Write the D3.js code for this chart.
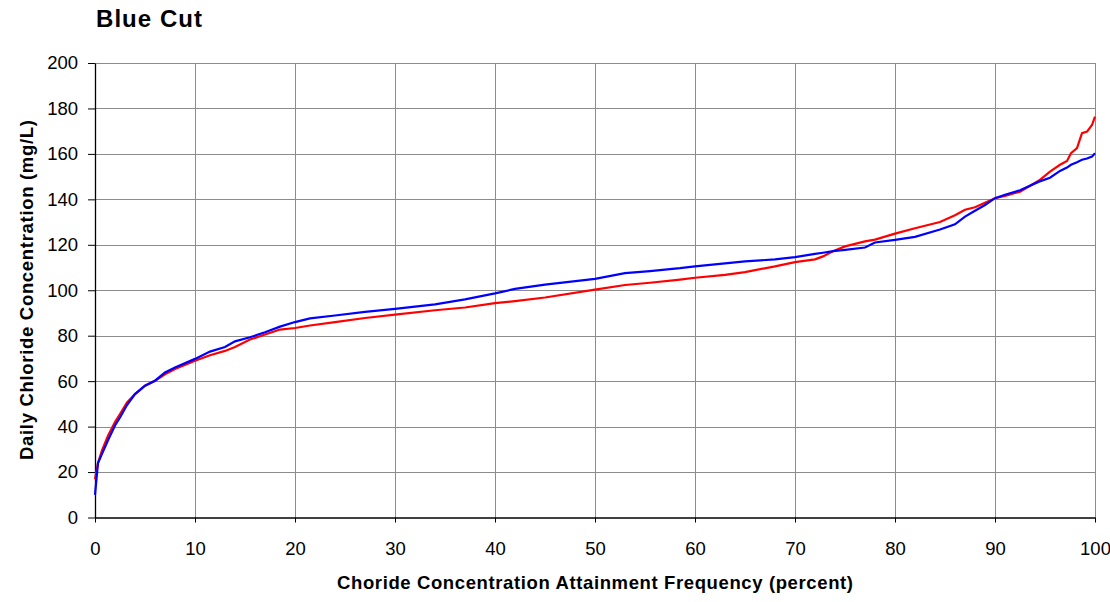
<!DOCTYPE html>
<html>
<head>
<meta charset="utf-8">
<script src="https://cdn.jsdelivr.net/npm/d3@7"></script>
<style>
  body { margin: 0; background: #fff; }
  svg { font-family: Arial, "Liberation Sans", sans-serif; }
</style>
</head>
<body>
<div id="chart"></div>
<script>
// attainment frequency (percent), shared by both series
var freq = [0, 0.3, 0.7, 1.3, 2, 2.5, 3.2, 4, 5, 6, 7, 8, 10, 11.5, 13, 14, 15.5, 17, 18.5, 20,
    21.5, 24, 27, 30, 34, 37, 40, 42, 45, 50, 53, 55.5, 58.5, 60, 63, 65, 68, 70, 72, 72.8,
    73.8, 75, 77, 78, 80, 82, 84.5, 86, 87, 88, 89, 90, 91, 92.5, 94.4, 95.5, 96.5, 97.2, 97.6,
    98.2, 98.7, 99.2, 99.7, 100];

// red series (mg/L)
var redVals = [16.8, 24, 29.5, 36, 42, 45.5, 50.6, 54.3, 58, 60.2, 63, 65.3, 69, 71.4, 73.3, 75, 78.3, 80.5, 82.7, 83.4,
    84.5, 86, 87.8, 89.3, 91.2, 92.4, 94.3, 95.2, 96.8, 100.3, 102.3, 103.3, 104.7, 105.5, 106.8, 108, 110.5, 112.4, 113.6, 114.9,
    117.2, 119.3, 121.5, 122.3, 124.9, 127.3, 130, 133, 135.4, 136.5, 138.5, 140.5, 141.5, 143.4, 148.3, 152.2, 155.2, 156.9, 160.3,
    162.5, 169.1, 169.8, 172.7, 176.4];

// blue series (mg/L)
var blueVals = [10, 24, 28, 34, 40.5, 44, 49.5, 54.3, 58, 60.2, 63.8, 66, 69.8, 73, 75, 77.5, 79.3, 81.5, 84, 86,
    87.6, 88.9, 90.5, 91.8, 93.8, 96, 98.6, 100.6, 102.5, 105, 107.5, 108.4, 109.7, 110.5, 111.8, 112.7, 113.6, 114.6, 116, 116.5,
    117.2, 117.8, 118.8, 121, 122.2, 123.5, 126.7, 129, 132.4, 135, 137.5, 140.5, 142, 144, 147.8, 149.5, 152.5, 154, 155.2,
    156.3, 157.4, 158, 158.8, 160.3];

var xTicks = [0, 10, 20, 30, 40, 50, 60, 70, 80, 90, 100];
var yTicks = [0, 20, 40, 60, 80, 100, 120, 140, 160, 180, 200];

var margin = { top: 63, right: 14, bottom: 84.5, left: 95 },
    width = 1110 - margin.left - margin.right,
    height = 602 - margin.top - margin.bottom;

var svg = d3.select("#chart")
    .append("svg")
    .attr("width", 1110)
    .attr("height", 602);

var g = svg.append("g")
    .attr("transform", "translate(" + margin.left + "," + margin.top + ")");

var x = d3.scaleLinear().domain([0, 100]).range([0, 1000]);
var y = d3.scaleLinear().domain([0, 200]).range([height, 0]);

// grid
g.append("g")
    .selectAll("line")
    .data(yTicks.slice(1))
    .enter()
    .append("line")
    .attr("x1", 0)
    .attr("x2", x(100))
    .attr("y1", d => Math.round(y(d)) + 0.5)
    .attr("y2", d => Math.round(y(d)) + 0.5)
    .attr("stroke", "#8c8c8c")
    .attr("stroke-width", 1);

g.append("g")
    .selectAll("line")
    .data(xTicks.slice(1))
    .enter()
    .append("line")
    .attr("x1", d => Math.round(x(d)) + 0.5)
    .attr("x2", d => Math.round(x(d)) + 0.5)
    .attr("y1", 0)
    .attr("y2", height)
    .attr("stroke", "#8c8c8c")
    .attr("stroke-width", 1);

// axes
var xAxis = g.append("g")
    .attr("transform", "translate(0," + height + ")")
    .call(d3.axisBottom(x).tickValues(xTicks).tickSize(5).tickSizeOuter(0).tickPadding(19));

var yAxis = g.append("g")
    .call(d3.axisLeft(y).tickValues(yTicks).tickSize(7).tickSizeOuter(0).tickPadding(10));

[xAxis, yAxis].forEach(function (a) {
    a.select(".domain").attr("stroke", "#000").attr("stroke-width", 1.3);
    a.selectAll(".tick line").attr("stroke", "#000");
    a.selectAll(".tick text")
        .attr("fill", "#000")
        .style("font-size", "18.5px")
        .style("font-family", "Arial, 'Liberation Sans', sans-serif");
});

// lines
var line = d3.line()
    .x(d => x(d[0]))
    .y(d => y(d[1]));

g.append("path")
    .datum(d3.zip(freq, redVals))
    .attr("fill", "none")
    .attr("stroke", "#ff0000")
    .attr("stroke-width", 2.2)
    .attr("d", line);

g.append("path")
    .datum(d3.zip(freq, blueVals))
    .attr("fill", "none")
    .attr("stroke", "#0000ff")
    .attr("stroke-width", 2.2)
    .attr("d", line);

// titles
svg.append("text")
    .attr("x", 96)
    .attr("y", 27)
    .attr("textLength", 106)
    .style("font-size", "24px")
    .style("font-weight", "bold")
    .text("Blue Cut");

svg.append("text")
    .attr("x", 337)
    .attr("y", 589)
    .attr("textLength", 516)
    .style("font-size", "18.5px")
    .style("font-weight", "bold")
    .text("Choride Concentration Attainment Frequency (percent)");

svg.append("text")
    .attr("transform", "translate(33,460) rotate(-90)")
    .attr("textLength", 340)
    .style("font-size", "18.5px")
    .style("font-weight", "bold")
    .text("Daily Chloride Concentration (mg/L)");
</script>
</body>
</html>
